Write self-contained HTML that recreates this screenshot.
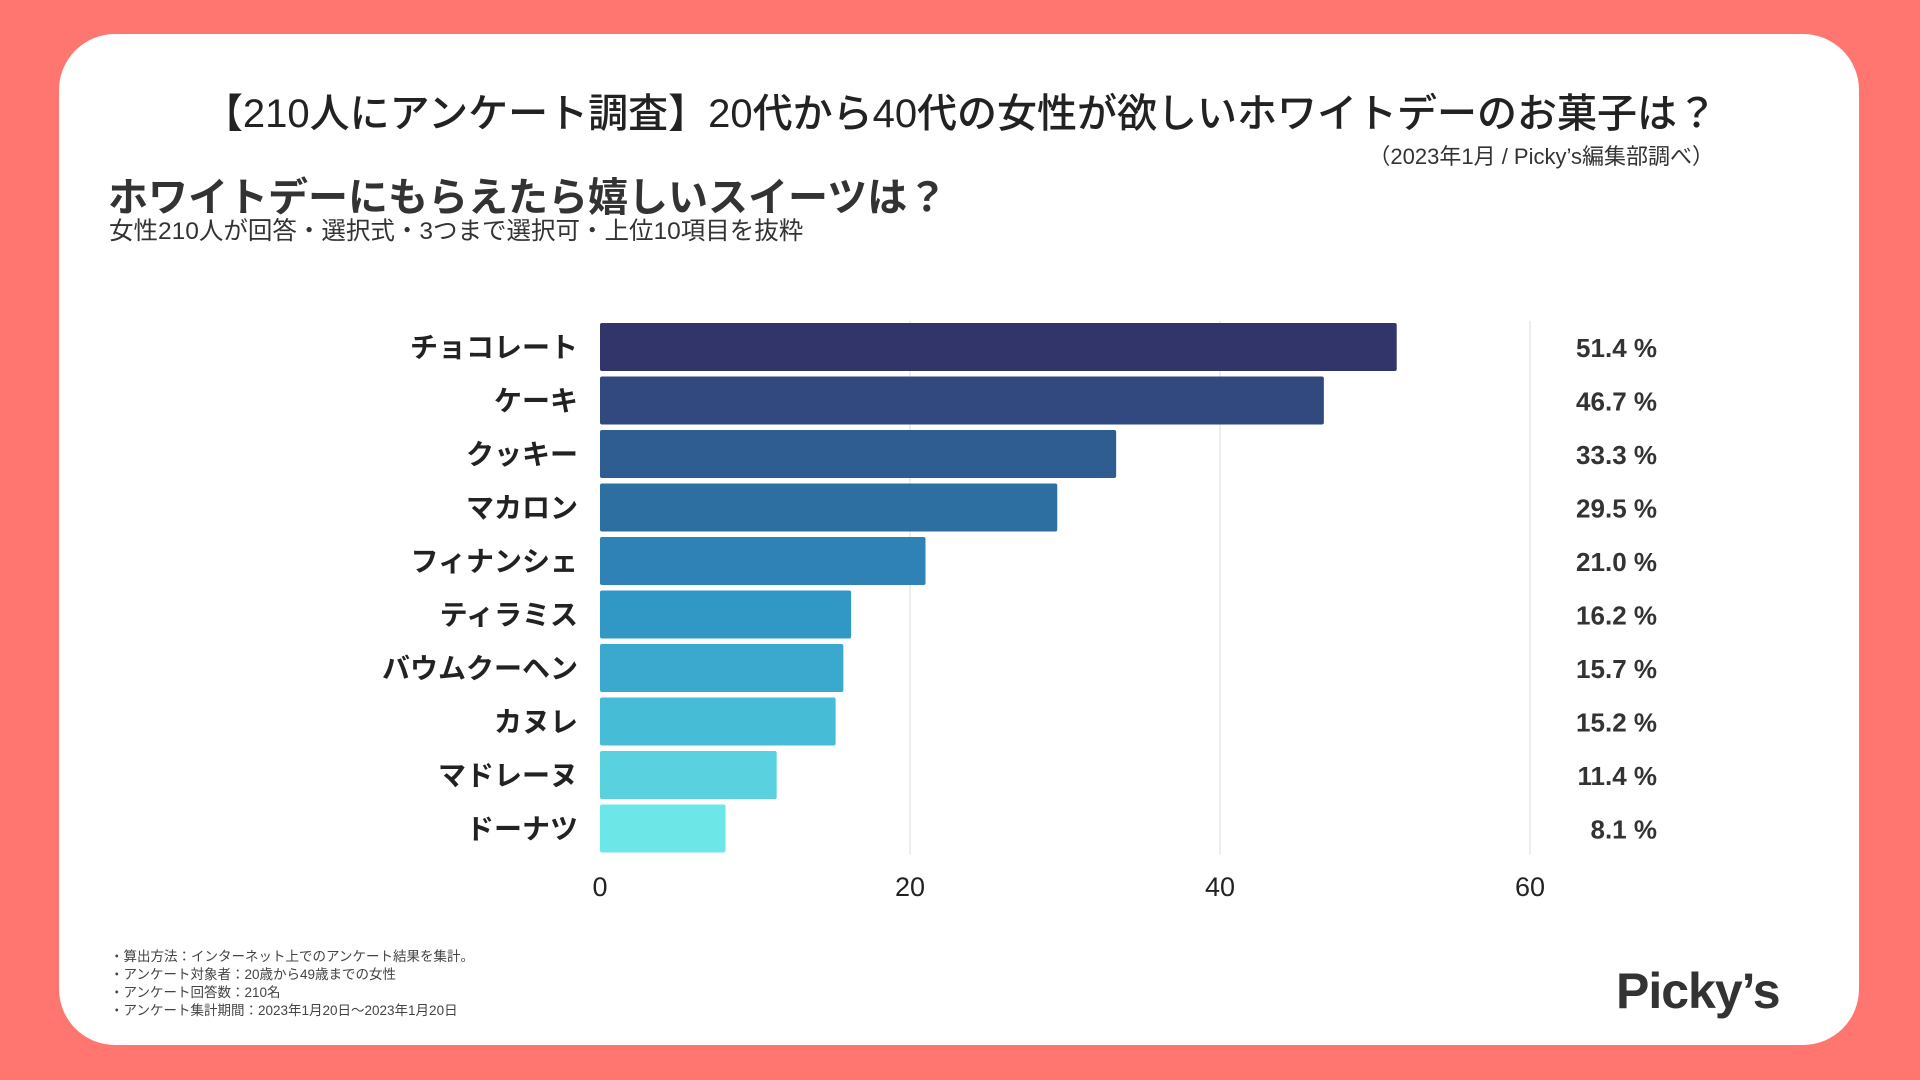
<!DOCTYPE html>
<html lang="ja"><head><meta charset="utf-8">
<style>
html,body{margin:0;padding:0;}
body{width:1920px;height:1080px;background:#ff7670;position:relative;overflow:hidden;font-family:"Liberation Sans","Noto Sans CJK JP",sans-serif;color:#222;}
#card{position:absolute;left:59px;top:34px;width:1800px;height:1011px;background:#fff;border-radius:56px;}
.t{position:absolute;white-space:nowrap;}
</style></head><body>
<div id="card"></div>
<div class="t" style="left:0;width:1920px;text-align:center;top:81px;font-size:40px;font-weight:500;color:#222;">【210人にアンケート調査】20代から40代の女性が欲しいホワイトデーのお菓子は？</div>
<div class="t" style="right:206px;top:139px;font-size:22px;color:#333;">（2023年1月 / Picky’s編集部調べ）</div>
<div class="t" style="left:108px;top:165px;font-size:40px;font-weight:bold;color:#333;">ホワイトデーにもらえたら嬉しいスイーツは？</div>
<div class="t" style="left:109px;top:212px;font-size:24.5px;color:#333;">女性210人が回答・選択式・3つまで選択可・上位10項目を抜粋</div>
<svg id="chart" width="1920" height="1080" style="position:absolute;left:0;top:0;"></svg>
<div class="t" style="left:110px;top:948px;font-size:13.5px;line-height:18px;color:#444;">・算出方法：インターネット上でのアンケート結果を集計。<br>・アンケート対象者：20歳から49歳までの女性<br>・アンケート回答数：210名<br>・アンケート集計期間：2023年1月20日～2023年1月20日</div>
<div class="t" style="left:1616px;top:962px;font-size:50px;font-weight:bold;color:#333;letter-spacing:-1px;">Picky’s</div>
<script>
const categories=["チョコレート","ケーキ","クッキー","マカロン","フィナンシェ","ティラミス","バウムクーヘン","カヌレ","マドレーヌ","ドーナツ"];
const values=[51.4,46.7,33.3,29.5,21.0,16.2,15.7,15.2,11.4,8.1];
const valueLabels=["51.4 %","46.7 %","33.3 %","29.5 %","21.0 %","16.2 %","15.7 %","15.2 %","11.4 %","8.1 %"];
const ticks=[0,20,40,60];
const colors=["#31356a","#32497f","#2f5c91","#2e6fa2","#2f82b5","#3197c4","#3ba8cd","#46bcd6","#5ad1df","#6de6e8"];
const svg=document.getElementById('chart');
const NS='http://www.w3.org/2000/svg';
const x0=600,xScale=(1530-600)/60;
const X=v=>x0+v*xScale;
const top0=323,pitch=53.5,barH=48;
const Y=i=>top0+i*pitch;
function mk(tag,attrs){const e=document.createElementNS(NS,tag);for(const k in attrs)e.setAttribute(k,attrs[k]);svg.appendChild(e);return e;}
ticks.forEach(t=>{
  if(t>0){const g=mk('line',{x1:X(t),x2:X(t),y1:top0-2,y2:Y(categories.length-1)+barH+2,stroke:'#dddddd','stroke-width':1});
  
  }
  const l=mk('text',{x:X(t),y:896,'text-anchor':'middle','font-size':27,fill:'#222','font-family':'"Liberation Sans","Noto Sans CJK JP",sans-serif'});
  l.textContent=t;
  
  
});
categories.forEach((c,i)=>{
  const b=mk('rect',{x:X(0),y:Y(i),width:X(values[i])-X(0),height:barH,fill:colors[i],rx:2});
  
  
  const cl=mk('text',{x:578,y:Y(i)+barH/2+10,'text-anchor':'end','font-size':28,'font-weight':'bold',fill:'#222','font-family':'"Liberation Sans","Noto Sans CJK JP",sans-serif'});
  cl.textContent=c;
  
  
  const vl=mk('text',{x:1657,y:Y(i)+barH/2+10,'text-anchor':'end','font-size':26,'font-weight':'bold',fill:'#333','font-family':'"Liberation Sans","Noto Sans CJK JP",sans-serif'});
  vl.textContent=valueLabels[i];
  
  
});
</script>
</body></html>
